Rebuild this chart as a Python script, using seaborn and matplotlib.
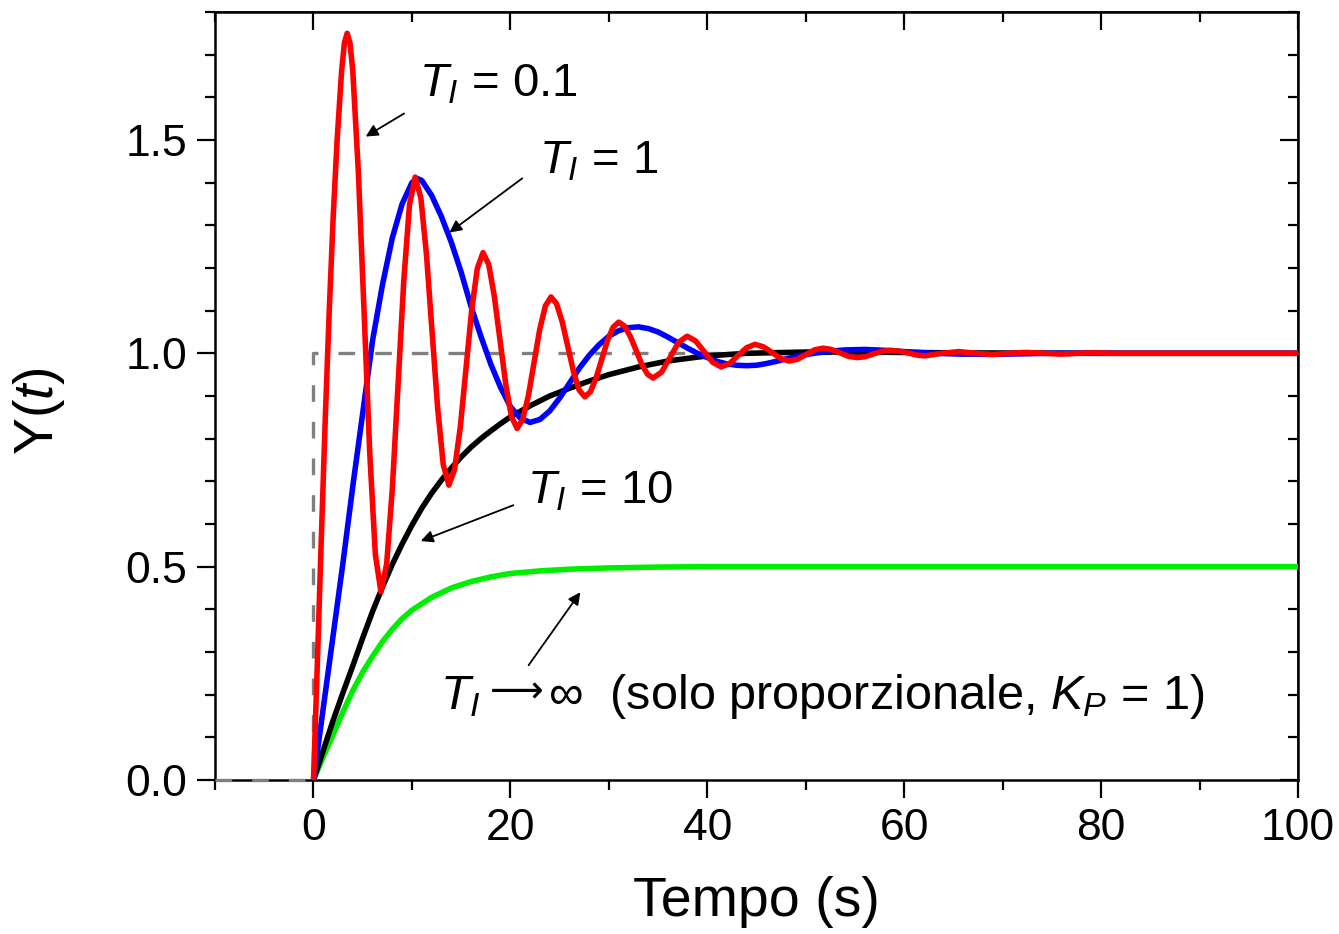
import matplotlib
matplotlib.use("Agg")
import matplotlib.pyplot as plt
import seaborn as sns
from matplotlib.ticker import MultipleLocator, NullFormatter

# step input (dashed reference)
step_t = [-10, 0, 0, 100]
step_y = [0, 0, 1, 1]

# T_I = 0.1 (red)
red_t = [0, 0.4, 0.8, 1.2, 1.6, 2.0, 2.4, 2.85, 3.14, 3.42, 3.70,
         3.99, 4.56, 5.14, 5.71, 6.28, 6.85,
         7.43, 8.01, 8.59, 9.17, 9.75, 10.33,
         10.90, 11.47, 12.04, 12.61, 13.18, 13.75,
         14.33, 14.91, 15.49, 16.06, 16.64, 17.22,
         17.80, 18.37, 18.95, 19.53, 20.10, 20.68,
         21.25, 21.83, 22.40, 22.97, 23.55, 24.12,
         24.69, 25.26, 25.84, 26.41, 26.98, 27.55,
         28.13, 28.70, 29.28, 29.85, 30.43, 31.00,
         31.58, 32.17, 32.75, 33.33, 33.92, 34.50,
         35.36, 36.23, 37.09, 37.95,
         38.81, 39.68, 40.54, 41.40,
         42.26, 43.13, 43.99, 44.85,
         45.71, 46.58, 47.44, 48.30,
         49.16, 50.03, 50.89, 51.75,
         52.61, 53.48, 54.34, 55.20,
         56.06, 56.93, 57.79, 58.65,
         59.51, 60.38, 61.24, 62.10,
         63.8, 65.55, 67.3, 69.0, 70.7, 72.45, 74.2, 75.9, 77.6, 79.4, 81.1, 100]
red_y = [0, 0.28, 0.57, 0.85, 1.10, 1.32, 1.50, 1.66, 1.728, 1.75, 1.728,
         1.662, 1.423, 1.096, 0.768, 0.529, 0.441,
         0.506, 0.684, 0.927, 1.170, 1.348, 1.413,
         1.365, 1.233, 1.052, 0.872, 0.739, 0.691,
         0.728, 0.827, 0.964, 1.100, 1.199, 1.236,
         1.208, 1.133, 1.030, 0.927, 0.852, 0.824,
         0.845, 0.901, 0.978, 1.055, 1.111, 1.132,
         1.116, 1.074, 1.015, 0.957, 0.914, 0.898,
         0.910, 0.942, 0.986, 1.029, 1.061, 1.073,
         1.064, 1.040, 1.008, 0.975, 0.951, 0.942,
         0.956, 0.991, 1.026, 1.040,
         1.029, 1.004, 0.979, 0.968,
         0.976, 0.995, 1.013, 1.021,
         1.015, 1.002, 0.988, 0.982,
         0.986, 0.997, 1.008, 1.012,
         1.009, 1.001, 0.993, 0.990,
         0.992, 0.999, 1.005, 1.007,
         1.005, 1.001, 0.996, 0.994,
         1.0, 1.004, 1.0, 0.997, 1.0, 1.002, 1.0, 0.998, 1.0, 1.001, 1.0, 1.0]

# T_I = 1 (blue)
blue_t = [0, 1, 2, 3, 4, 5, 6, 7, 8, 9, 10, 10.5, 11, 12, 13, 14, 15, 16, 17, 18,
          19, 20, 21, 22, 23, 24, 25, 26, 27, 28, 29, 30, 31, 32, 33, 34, 35, 36,
          37, 38, 39, 40, 41, 42, 43, 44, 45, 46, 47, 48, 50, 52, 54, 56, 58, 60,
          63, 66, 70, 75, 100]
blue_y = [0, 0.17, 0.34, 0.51, 0.69, 0.86, 1.03, 1.16, 1.27, 1.35, 1.40, 1.41, 1.405,
          1.37, 1.32, 1.26, 1.19, 1.11, 1.04, 0.975, 0.92, 0.875, 0.848, 0.838, 0.845,
          0.865, 0.895, 0.93, 0.965, 0.995, 1.02, 1.04, 1.053, 1.06, 1.062, 1.058, 1.05,
          1.038, 1.025, 1.012, 1.0, 0.99, 0.981, 0.975, 0.972, 0.971, 0.972, 0.976,
          0.981, 0.987, 0.997, 1.004, 1.008, 1.009, 1.007, 1.004, 1.0, 0.998, 0.998,
          1.0, 1.0]

# T_I = 10 (black)
black_t = [0, 1, 2, 3, 4, 5, 6, 7, 8, 9, 10, 11, 12, 13, 14, 15, 16, 17, 18, 19, 20,
           22, 24, 26, 28, 30, 33, 36, 40, 44, 50, 56, 65, 80, 100]
black_y = [0, 0.07, 0.14, 0.205, 0.268, 0.333, 0.395, 0.452, 0.505, 0.553, 0.597,
           0.637, 0.672, 0.703, 0.731, 0.757, 0.78, 0.80, 0.818, 0.835, 0.851, 0.877,
           0.90, 0.918, 0.935, 0.95, 0.968, 0.982, 0.994, 1.0, 1.003, 1.003, 1.001,
           1.0, 1.0]

# T_I -> inf (green, proportional only)
green_t = [0, 1, 2, 3, 4, 5, 6, 7, 8, 9, 10, 12, 14, 16, 18, 20, 23, 26, 30, 35, 40, 100]
green_y = [0, 0.055, 0.107, 0.16, 0.21, 0.253, 0.29, 0.324, 0.353, 0.378, 0.398, 0.428,
           0.45, 0.465, 0.476, 0.484, 0.49, 0.494, 0.497, 0.499, 0.5, 0.5]

sns.set_theme(style="ticks")
plt.rcParams["font.family"] = ["Liberation Sans", "DejaVu Sans"]
plt.rcParams["mathtext.fontset"] = "custom"
plt.rcParams["mathtext.rm"] = "Liberation Sans"
plt.rcParams["mathtext.it"] = "Liberation Sans:italic"
plt.rcParams["text.color"] = "black"
plt.rcParams["axes.labelcolor"] = "black"

fig = plt.figure(figsize=(13.39, 9.34), dpi=100)
ax = fig.add_axes([0.1606, 0.1649, 0.8088, 0.8223])

ax.plot(step_t, step_y, color="#808080", lw=2.4, dashes=(5, 6), zorder=2.7, clip_on=False)
lw = 4
sns.lineplot(x=green_t, y=green_y, color="#00ee00", lw=lw, ax=ax, estimator=None, sort=False, zorder=3)
sns.lineplot(x=black_t, y=black_y, color="black", lw=lw, ax=ax, estimator=None, sort=False, zorder=4)
sns.lineplot(x=blue_t, y=blue_y, color="#0000ff", lw=lw, ax=ax, estimator=None, sort=False, zorder=5)
sns.lineplot(x=red_t, y=red_y, color="#ff0000", lw=lw, ax=ax, estimator=None, sort=False, zorder=6)

ax.set_xlim(-10, 100)
ax.set_ylim(0, 1.8)

for s in ax.spines.values():
    s.set_linewidth(1.8)
    s.set_color("black")


def set_ticks(axis, major, minor):
    axis.set_major_locator(MultipleLocator(major))
    axis.set_minor_locator(MultipleLocator(minor))


set_ticks(ax.xaxis, 20, 10)
set_ticks(ax.yaxis, 0.5, 0.1)
ax.yaxis.set_major_formatter(plt.FormatStrFormatter("%.1f"))
ax.tick_params(which="major", length=13, width=1.6, labelsize=32, pad=7, colors="black",
               direction="out", top=False, right=False)
ax.tick_params(which="minor", length=7, width=1.6, colors="black", direction="out",
               top=False, right=False)

# inward ticks on top and right
top = ax.secondary_xaxis("top")
right = ax.secondary_yaxis("right")
set_ticks(top.xaxis, 20, 10)
set_ticks(right.yaxis, 0.5, 0.1)
for sec in (top, right):
    sec.tick_params(which="major", length=13, width=1.6, direction="in", colors="black")
    sec.tick_params(which="minor", length=7, width=1.6, direction="in", colors="black")
top.xaxis.set_major_formatter(NullFormatter())
right.yaxis.set_major_formatter(NullFormatter())

ax.set_xlabel("Tempo (s)", fontsize=40)
ax.set_ylabel(r"Y($\it{t}$)", fontsize=40)
ax.xaxis.set_label_coords(0.5, -0.125)
ax.yaxis.set_label_coords(-0.137, 0.48)

arrow = dict(arrowstyle="-|>", color="black", lw=1.3, mutation_scale=18, shrinkA=0, shrinkB=0)
ax.annotate("", xy=(5.3, 1.508), xytext=(9.2, 1.562), arrowprops=arrow)
ax.annotate("", xy=(13.8, 1.283), xytext=(21.2, 1.41), arrowprops=arrow)
ax.annotate("", xy=(10.9, 0.56), xytext=(20.3, 0.644), arrowprops=arrow)
ax.annotate("", xy=(27.1, 0.44), xytext=(21.85, 0.269), arrowprops=arrow)

fs = 34
ax.text(10.7, 1.63, r"$T_I$ = 0.1", fontsize=fs, va="center", ha="left")
ax.text(22.9, 1.45, r"$T_I$ = 1", fontsize=fs, va="center", ha="left")
ax.text(21.7, 0.675, r"$T_I$ = 10", fontsize=fs, va="center", ha="left")
ax.text(12.8, 0.195, r"$T_I$", fontsize=35, va="center", ha="left")
ax.text(17.9, 0.205, "\u27f6", fontsize=27, va="center", ha="left", family="DejaVu Sans")
ax.text(23.8, 0.195, "\u221e  (solo proporzionale, $K_P$ = 1)", fontsize=35,
        va="center", ha="left")

fig.savefig("out.png", dpi=100)
